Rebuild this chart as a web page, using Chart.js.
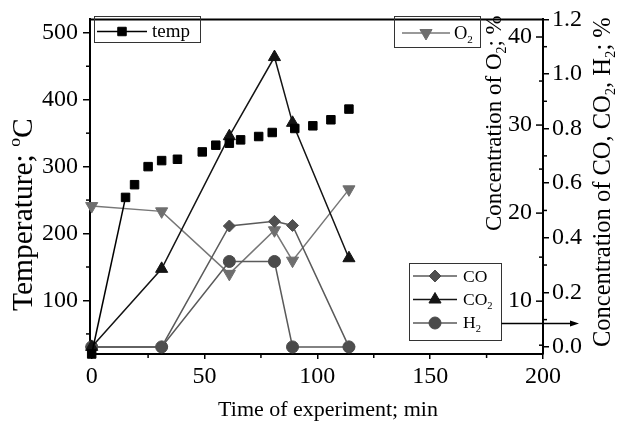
<!DOCTYPE html>
<html>
<head>
<meta charset="utf-8">
<script src="https://cdn.jsdelivr.net/npm/chart.js@4.4.1/dist/chart.umd.min.js"></script>
<style>
  html, body { margin: 0; padding: 0; background: #fff; }
  #wrap { position: relative; width: 618px; height: 424px; }
</style>
</head>
<body>
<div id="wrap"><canvas id="chart"></canvas></div>
<script>
// ── Data ─────────────────────────────────────────────────────
const timeTemp = [0, 15, 19, 25, 31, 38, 49, 55, 61, 66, 74, 80, 90, 98, 106, 114];
const tempVals = [20, 254, 273, 300, 309, 311, 322, 332, 335, 340, 345, 351, 357, 361, 370, 386];

const timeGas = [0, 31, 61, 81, 89, 114];
const coVals = [0, 0, 0.443, 0.46, 0.445, 0];
const co2Vals = [0, 0.286, 0.772, 1.062, 0.821, 0.325];
const h2Vals = [0, 0, 0.313, 0.313, 0, 0];
const o2Vals = [20.8, 20.2, 13.1, 18.05, 14.6, 22.7];

const xTicks = [0, 50, 100, 150, 200];
const xMinor = [25, 75, 125, 175];
const tempTicks = [100, 200, 300, 400, 500];
const tempMinor = [50, 150, 250, 350, 450];
const o2Ticks = [10, 20, 30, 40];
const o2Minor = [5, 15, 25, 35];
const gasTicks = [0, 0.2, 0.4, 0.6, 0.8, 1.0, 1.2];
const gasMinor = [0.1, 0.3, 0.5, 0.7, 0.9, 1.1];

const FONT = '"Liberation Serif", "Times New Roman", serif';

const pts = (xs, ys) => xs.map((x, i) => ({ x, y: ys[i] }));
const asTicks = (vals) => (s) => { s.ticks = vals.map((v) => ({ value: v })); };

// ── Drawing helpers ──────────────────────────────────────────

function drawRich(ctx, parts, x, y, size, angle) {
  ctx.save();
  ctx.translate(x, y);
  ctx.rotate(angle);
  ctx.textAlign = "left";
  ctx.textBaseline = "alphabetic";
  ctx.fillStyle = "#000";
  let cx = 0;
  parts.forEach(([t, kind]) => {
    const s = kind ? size * 0.6 : size;
    ctx.font = `${s}px ${FONT}`;
    const dy = kind === "sub" ? size * 0.22 : kind === "sup" ? -size * 0.42 : 0;
    ctx.fillText(t, cx, dy);
    cx += ctx.measureText(t).width;
  });
  ctx.restore();
}

function marker(ctx, style, x, y, r, color) {
  ctx.save();
  ctx.fillStyle = color;
  ctx.strokeStyle = color;
  ctx.lineWidth = 1;
  ctx.beginPath();
  if (style === "rect") {
    const h = r * Math.SQRT1_2;
    ctx.rect(x - h, y - h, 2 * h, 2 * h);
  } else if (style === "triangle" || style === "triangleDown") {
    const k = style === "triangle" ? 1 : -1;
    ctx.moveTo(x, y - k * r);
    ctx.lineTo(x + r * 0.866, y + k * r * 0.5);
    ctx.lineTo(x - r * 0.866, y + k * r * 0.5);
    ctx.closePath();
  } else if (style === "rectRot") {
    ctx.moveTo(x, y - r);
    ctx.lineTo(x + r, y);
    ctx.lineTo(x, y + r);
    ctx.lineTo(x - r, y);
    ctx.closePath();
  } else {
    ctx.arc(x, y, r, 0, Math.PI * 2);
  }
  ctx.fill();
  ctx.stroke();
  ctx.restore();
}

function legendRow(ctx, y, x0, x1, lineColor, style, r, color, parts, tx, ty, size) {
  ctx.save();
  ctx.strokeStyle = lineColor;
  ctx.lineWidth = 1.5;
  ctx.beginPath();
  ctx.moveTo(x0, y);
  ctx.lineTo(x1, y);
  ctx.stroke();
  ctx.restore();
  marker(ctx, style, (x0 + x1) / 2, y, r, color);
  drawRich(ctx, parts, tx, ty, size, 0);
}

function box(ctx, x0, y0, x1, y1) {
  ctx.save();
  ctx.strokeStyle = "#333";
  ctx.lineWidth = 1;
  ctx.strokeRect(x0, y0, x1 - x0, y1 - y0);
  ctx.restore();
}

function tickLines(ctx, scale, vals, fn) {
  vals.forEach((v) => {
    const p = scale.getPixelForValue(v);
    const [ax, ay, bx, by] = fn(p);
    ctx.beginPath();
    ctx.moveTo(ax, ay);
    ctx.lineTo(bx, by);
    ctx.stroke();
  });
}

// frame top, minor ticks, O2 axis, titles, legends, arrow
const overlayPlugin = {
  id: "overlay",
  afterDraw(chart) {
    const { ctx, chartArea: a, scales } = chart;
    ctx.save();
    ctx.strokeStyle = "#000";

    ctx.lineWidth = 2;
    ctx.beginPath();
    ctx.moveTo(a.left - 1, a.top);
    ctx.lineTo(a.right + 1, a.top);
    ctx.stroke();

    ctx.lineWidth = 1.5;
    tickLines(ctx, scales.y, tempMinor, (p) => [a.left - 4, p, a.left, p]);
    tickLines(ctx, scales.x, xMinor, (p) => [p, a.bottom, p, a.bottom + 4]);
    tickLines(ctx, scales.yGas, gasMinor, (p) => [a.right, p, a.right + 4, p]);
    tickLines(ctx, scales.yO2, o2Minor, (p) => [a.right - 4, p, a.right, p]);
    tickLines(ctx, scales.yO2, o2Ticks, (p) => [a.right - 7, p, a.right, p]);

    ctx.fillStyle = "#000";
    ctx.font = `24px ${FONT}`;
    ctx.textAlign = "right";
    ctx.textBaseline = "middle";
    o2Ticks.forEach((v) => {
      ctx.fillText(String(v), a.right - 11, scales.yO2.getPixelForValue(v));
    });

    ctx.font = `22px ${FONT}`;
    ctx.textAlign = "center";
    ctx.textBaseline = "alphabetic";
    ctx.fillText("Time of experiment; min", 328, 416);

    drawRich(ctx, [["Temperature; ", ""], ["o", "sup"], ["C", ""]], 32, 311, 29.5, -Math.PI / 2);
    drawRich(ctx, [["Concentration of O", ""], ["2", "sub"], ["; %", ""]], 501, 231, 23, -Math.PI / 2);
    drawRich(
      ctx,
      [["Concentration of CO, CO", ""], ["2", "sub"], [", H", ""], ["2", "sub"], ["; %", ""]],
      610, 347, 24.5, -Math.PI / 2,
    );

    // legends
    box(ctx, 94.5, 16.5, 200.5, 42.5);
    legendRow(ctx, 31.5, 97, 147, "#000", "rect", 6, "#000", [["temp", ""]], 152, 37, 19);

    box(ctx, 394.5, 16.5, 480.5, 47.5);
    legendRow(ctx, 33, 402, 450, "#777", "triangleDown", 7, "#6e6e6e", [["O", ""], ["2", "sub"]], 454, 39, 18.5);

    box(ctx, 409.5, 263.5, 501.5, 340.5);
    legendRow(ctx, 276, 413, 457, "#5a5a5a", "rectRot", 6, "#4f4f4f", [["CO", ""]], 463, 282, 17.5);
    legendRow(ctx, 299.5, 413, 457, "#141414", "triangle", 7, "#141414", [["CO", ""], ["2", "sub"]], 463, 305, 17.5);
    legendRow(ctx, 323, 413, 457, "#5a5a5a", "circle", 6, "#4a4a4a", [["H", ""], ["2", "sub"]], 463, 328, 17.5);

    // arrow from gas legend to the right axis
    ctx.lineWidth = 1.3;
    ctx.beginPath();
    ctx.moveTo(501.5, 323.5);
    ctx.lineTo(572, 323.5);
    ctx.stroke();
    ctx.beginPath();
    ctx.moveTo(579, 323.5);
    ctx.lineTo(570, 320.5);
    ctx.lineTo(570, 326.5);
    ctx.closePath();
    ctx.fill();

    ctx.restore();
  },
};

// ── Chart ────────────────────────────────────────────────────

const tickFont = { family: FONT, size: 24 };

new Chart(document.getElementById("chart"), {
  type: "line",
  plugins: [overlayPlugin],
  data: {
    datasets: [
      {
        label: "temp",
        data: pts(timeTemp, tempVals),
        yAxisID: "y",
        borderColor: "#000",
        borderWidth: 1.5,
        pointStyle: "rect",
        pointRadius: 6,
        pointBackgroundColor: "#000",
        pointBorderColor: "#000",
        pointBorderWidth: 1,
        segment: { borderColor: (c) => (c.p0DataIndex === 0 ? "#000" : "transparent") },
        clip: false,
      },
      {
        label: "CO2",
        data: pts(timeGas, co2Vals),
        yAxisID: "yGas",
        borderColor: "#141414",
        borderWidth: 1.5,
        pointStyle: "triangle",
        pointRadius: 7,
        pointBackgroundColor: "#141414",
        pointBorderColor: "#141414",
        pointBorderWidth: 1,
        clip: false,
      },
      {
        label: "CO",
        data: pts(timeGas, coVals),
        yAxisID: "yGas",
        borderColor: "#5a5a5a",
        borderWidth: 1.5,
        pointStyle: "rectRot",
        pointRadius: 6,
        pointBackgroundColor: "#4f4f4f",
        pointBorderColor: "#4f4f4f",
        pointBorderWidth: 1,
        clip: false,
      },
      {
        label: "H2",
        data: pts(timeGas, h2Vals),
        yAxisID: "yGas",
        borderColor: "#5a5a5a",
        borderWidth: 1.5,
        pointStyle: "circle",
        pointRadius: 6,
        pointBackgroundColor: "#4a4a4a",
        pointBorderColor: "#4a4a4a",
        pointBorderWidth: 1,
        clip: false,
      },
      {
        label: "O2",
        data: pts(timeGas, o2Vals),
        yAxisID: "yO2",
        borderColor: "#777",
        borderWidth: 1.5,
        pointStyle: "triangle",
        pointRotation: 180,
        pointRadius: 7,
        pointBackgroundColor: "#6e6e6e",
        pointBorderColor: "#6e6e6e",
        pointBorderWidth: 1,
        clip: false,
      },
    ],
  },
  options: {
    responsive: true,
    maintainAspectRatio: false,
    animation: false,
    layout: { padding: { top: 14, left: 0, right: 0, bottom: 0 } },
    plugins: { legend: { display: false }, tooltip: { enabled: false } },
    elements: { line: { tension: 0 } },
    scales: {
      x: {
        type: "linear",
        position: "bottom",
        min: -0.75,
        max: 200,
        afterBuildTicks: asTicks(xTicks),
        afterFit: (s) => { s.height = 70; },
        grid: { drawOnChartArea: false, tickLength: 5, color: "#000", lineWidth: 1.5 },
        border: { color: "#000", width: 2 },
        ticks: { color: "#000", font: tickFont, padding: 3, maxRotation: 0, autoSkip: false },
      },
      y: {
        position: "left",
        min: 20,
        max: 520,
        afterBuildTicks: asTicks(tempTicks),
        afterFit: (s) => { s.width = 90; },
        grid: { drawOnChartArea: false, tickLength: 7, color: "#000", lineWidth: 1.5 },
        border: { color: "#000", width: 2 },
        ticks: { color: "#000", font: tickFont, padding: 5, autoSkip: false },
      },
      yGas: {
        position: "right",
        min: -0.026,
        max: 1.2,
        afterBuildTicks: asTicks(gasTicks),
        afterFit: (s) => { s.width = 75; },
        grid: { drawOnChartArea: false, tickLength: 6, color: "#000", lineWidth: 1.5 },
        border: { color: "#000", width: 2 },
        ticks: { color: "#000", font: tickFont, padding: 3, autoSkip: false, callback: (v) => v.toFixed(1) },
      },
      yO2: {
        position: "right",
        display: false,
        min: 4,
        max: 42,
      },
    },
  },
});
</script>
</body>
</html>
